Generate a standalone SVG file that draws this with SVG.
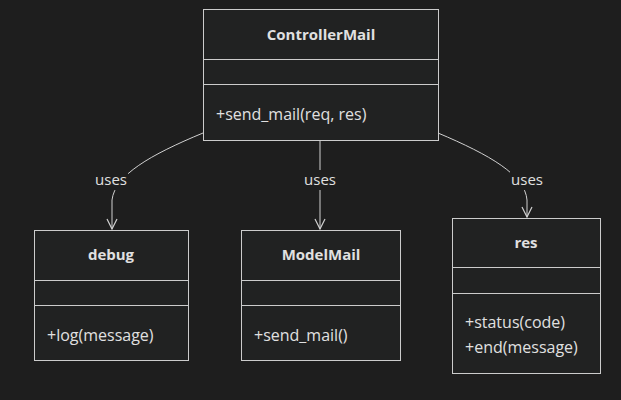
<svg xmlns="http://www.w3.org/2000/svg" width="621" height="400" viewBox="0 0 621 400">
<defs>
<style>
.bg{fill:#1e1e1e}
.box{fill:#212222;stroke:#cccccc;stroke-width:1}
.div{stroke:#cccccc;stroke-width:1}
.t{font-family:"Open Sans","Noto Sans",sans-serif;fill:#e0e0e0;font-size:16px}
.title{font-weight:bold;text-anchor:middle;font-size:15px}
.ul{font-size:15px}
.edge{fill:none;stroke:#d0d0d0;stroke-width:1}
.lbl{fill:#1e1e1e}
</style>
<marker id="arr" viewBox="0 0 12 12" refX="11" refY="6" markerWidth="12" markerHeight="12" orient="auto" markerUnits="userSpaceOnUse">
<path d="M1,1 L11,6 L1,11" fill="none" stroke="#d0d0d0" stroke-width="1.2"/>
</marker>
</defs>
<rect class="bg" x="0" y="0" width="621" height="400"/>
<g id="connectors">
<path class="edge" d="M203,133 C150,155 115,175 112,200 L112,229" marker-end="url(#arr)"/>
<path class="edge" d="M320,140 L320,229" marker-end="url(#arr)"/>
<path class="edge" d="M438,133 C490,155 525,175 527,200 L527,217" marker-end="url(#arr)"/>
<rect class="lbl" x="94" y="170" width="34" height="20"/>
<text class="t ul" x="111" y="185" text-anchor="middle">uses</text>
<rect class="lbl" x="303" y="170" width="34" height="20"/>
<text class="t ul" x="320" y="185" text-anchor="middle">uses</text>
<rect class="lbl" x="510" y="170" width="34" height="20"/>
<text class="t ul" x="527" y="185" text-anchor="middle">uses</text>
</g>
<g id="ControllerMail">
<rect class="box" x="203.5" y="9.5" width="235" height="131"/>
<line class="div" x1="203.5" y1="59.5" x2="438.5" y2="59.5"/>
<line class="div" x1="203.5" y1="84.5" x2="438.5" y2="84.5"/>
<text class="t title" x="321" y="40">ControllerMail</text>
<text class="t" x="216" y="120">+send_mail(req, res)</text>
</g>
<g id="debug">
<rect class="box" x="34.5" y="230.5" width="154" height="130"/>
<line class="div" x1="34.5" y1="280.5" x2="188.5" y2="280.5"/>
<line class="div" x1="34.5" y1="305.5" x2="188.5" y2="305.5"/>
<text class="t title" x="111" y="260">debug</text>
<text class="t" x="47" y="341">+log(message)</text>
</g>
<g id="ModelMail">
<rect class="box" x="241.5" y="230.5" width="159" height="130"/>
<line class="div" x1="241.5" y1="280.5" x2="400.5" y2="280.5"/>
<line class="div" x1="241.5" y1="305.5" x2="400.5" y2="305.5"/>
<text class="t title" x="321" y="260">ModelMail</text>
<text class="t" x="254" y="341">+send_mail()</text>
</g>
<g id="res">
<rect class="box" x="452.5" y="218.5" width="148" height="155"/>
<line class="div" x1="452.5" y1="267.5" x2="600.5" y2="267.5"/>
<line class="div" x1="452.5" y1="293.5" x2="600.5" y2="293.5"/>
<text class="t title" x="526" y="248">res</text>
<text class="t" x="465" y="328">+status(code)</text>
<text class="t" x="465" y="353">+end(message)</text>
</g>
</svg>
